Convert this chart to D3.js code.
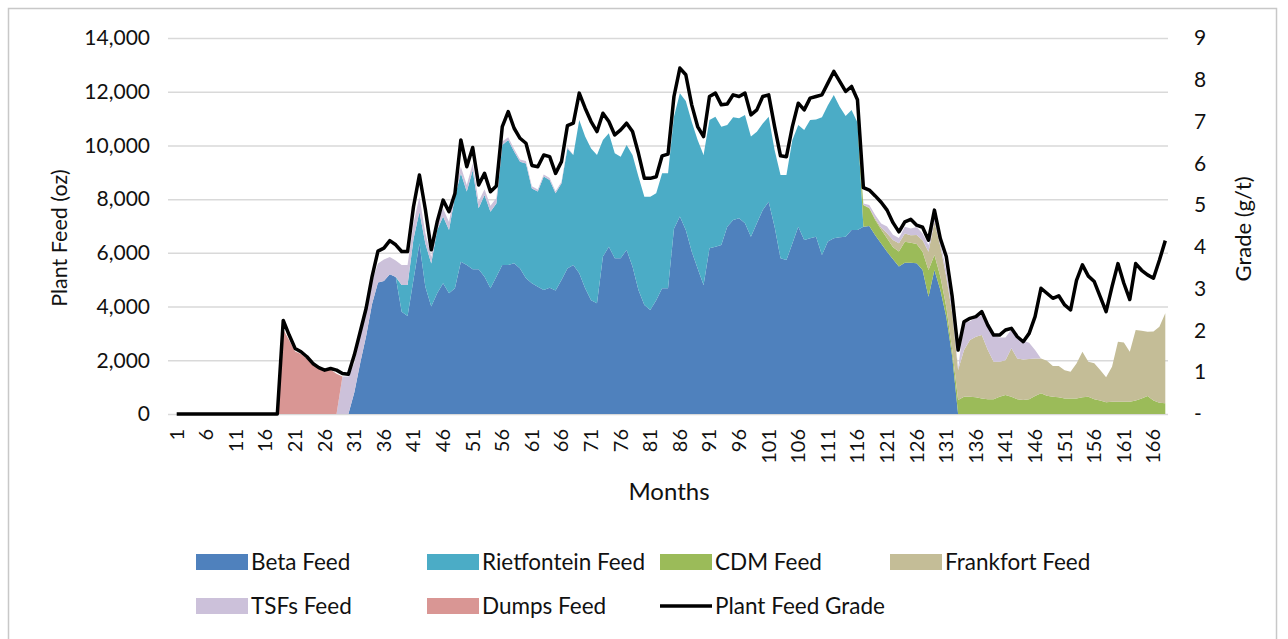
<!DOCTYPE html>
<html>
<head>
<meta charset="utf-8">
<script src="https://cdn.jsdelivr.net/npm/d3@7"></script>
<style>
  body { margin: 0; background: #fff; }
  text { font-family: Lato, "Open Sans", sans-serif; fill: #111; }
</style>
</head>
<body>
<div id="chart"></div>
<script>
// Monthly plant feed (oz) by source, month 1..168
const beta = [
  0,0,0,0,0,0,0,0,0,0,
  0,0,0,0,0,0,0,0,0,0,
  0,0,0,0,0,0,0,0,0,0,
  800,1900,2900,4100,4900,4950,5200,5100,3810,3650,
  5000,6350,4740,4000,4500,4870,4500,4680,5670,5550,
  5390,5390,5110,4680,5110,5550,5550,5610,5420,5050,
  4870,4740,4620,4700,4600,4990,5420,5550,5240,4680,
  4240,4120,5860,6230,5800,5800,6110,5490,4620,4060,
  3870,4240,4680,4680,6900,7350,6850,6050,5420,4800,
  6170,6230,6290,6970,7220,7290,7100,6600,7100,7600,
  7900,6970,5800,5730,6350,6970,6480,6540,6600,5920,
  6420,6540,6580,6600,6850,6850,6970,7000,6660,6350,
  6040,5760,5490,5630,5630,5610,5360,4370,5360,4620,
  3620,2140,0,0,0,0,0,0,0,0,
  0,0,0,0,0,0,0,0,0,0,
  0,0,0,0,0,0,0,0,0,0,
  0,0,0,0,0,0,0,0
];
const rietfontein = [
  0,0,0,0,0,0,0,0,0,0,
  0,0,0,0,0,0,0,0,0,0,
  0,0,0,0,0,0,0,0,0,0,
  0,0,0,0,0,0,0,0,990,1150,
  1515,1180,1610,1600,2350,2480,2350,3410,3290,2730,
  3690,2270,3040,2850,2730,4470,4650,4160,3970,4280,
  3530,3540,4220,4010,3620,3600,4470,4090,5710,5650,
  5650,5520,4340,4220,3910,3780,3910,4150,4220,4030,
  4220,3980,4280,4280,4170,4590,4800,4830,4780,4840,
  4780,4840,4410,3790,3830,3720,4030,3730,3410,3220,
  3170,2860,3100,3170,3850,3790,4090,4410,4370,5130,
  5080,5340,4860,4500,4470,4000,0,0,0,0,
  0,0,0,0,0,0,0,0,0,0,
  0,0,0,0,0,0,0,0,0,0,
  0,0,0,0,0,0,0,0,0,0,
  0,0,0,0,0,0,0,0,0,0,
  0,0,0,0,0,0,0,0
];
const cdm = [
  0,0,0,0,0,0,0,0,0,0,
  0,0,0,0,0,0,0,0,0,0,
  0,0,0,0,0,0,0,0,0,0,
  0,0,0,0,0,0,0,0,0,0,
  0,0,0,0,0,0,0,0,0,0,
  0,0,0,0,0,0,0,0,0,0,
  0,0,0,0,0,0,0,0,0,0,
  0,0,0,0,0,0,0,0,0,0,
  0,0,0,0,0,0,0,0,0,0,
  0,0,0,0,0,0,0,0,0,0,
  0,0,0,0,0,0,0,0,0,0,
  0,0,0,0,0,0,810,660,560,520,
  500,450,560,780,745,720,680,990,560,500,
  370,250,520,645,645,620,580,550,550,645,
  705,645,550,520,550,670,770,680,645,620,
  580,580,580,620,645,550,500,435,460,460,
  460,460,500,580,670,500,420,400
];
const frankfort = [
  0,0,0,0,0,0,0,0,0,0,
  0,0,0,0,0,0,0,0,0,0,
  0,0,0,0,0,0,0,0,0,0,
  0,0,0,0,0,0,0,0,0,0,
  0,0,0,0,0,0,0,0,0,0,
  0,0,0,0,0,0,0,0,0,0,
  0,0,0,0,0,0,0,0,0,0,
  0,0,0,0,0,0,0,0,0,0,
  0,0,0,0,0,0,0,0,0,0,
  0,0,0,0,0,0,0,0,0,0,
  0,0,0,0,0,0,0,0,0,0,
  0,0,0,0,0,0,0,20,60,75,
  190,270,310,310,285,335,430,680,1240,1120,
  1120,1360,1120,1740,2110,2260,2360,1840,1400,1300,
  1300,1800,1520,1510,1500,1400,1300,1300,1140,1170,
  1050,990,1300,1700,1300,1340,1140,930,1300,2230,
  2200,1860,2630,2520,2390,2570,2830,3350
];
const tsfs = [
  0,0,0,0,0,0,0,0,0,0,
  0,0,0,0,0,0,0,0,0,0,
  0,0,0,0,0,0,0,0,1400,1400,
  1100,1000,900,850,700,800,650,620,750,750,
  600,560,400,250,320,300,300,260,250,250,
  250,250,220,220,200,130,100,100,90,90,
  80,80,80,80,70,60,50,0,0,0,
  0,0,0,0,0,0,0,0,0,0,
  0,0,0,0,0,0,0,0,0,0,
  0,0,0,0,0,0,0,0,0,0,
  0,0,0,0,0,0,0,0,0,0,
  0,0,0,0,0,0,60,100,130,150,
  250,190,190,250,250,300,250,250,190,120,
  250,250,60,1020,700,700,740,820,950,900,
  840,700,730,700,600,310,0,0,0,0,
  0,0,0,0,0,0,0,0,0,0,
  0,0,0,0,0,0,0,0
];
const dumps = [
  0,0,0,0,0,0,0,0,0,0,
  0,0,0,0,0,0,0,0,3150,2750,
  2330,2230,2050,1850,1720,1600,1650,1500,0,0,
  0,0,0,0,0,0,0,0,0,0,
  0,0,0,0,0,0,0,0,0,0,
  0,0,0,0,0,0,0,0,0,0,
  0,0,0,0,0,0,0,0,0,0,
  0,0,0,0,0,0,0,0,0,0,
  0,0,0,0,0,0,0,0,0,0,
  0,0,0,0,0,0,0,0,0,0,
  0,0,0,0,0,0,0,0,0,0,
  0,0,0,0,0,0,0,0,0,0,
  0,0,0,0,0,0,0,0,0,0,
  0,0,0,0,0,0,0,0,0,0,
  0,0,0,0,0,0,0,0,0,0,
  0,0,0,0,0,0,0,0,0,0,
  0,0,0,0,0,0,0,0
];
// Plant feed grade (g/t), right axis
const grade = [
  0,0,0,0,0,0,0,0,0,0,
  0,0,0,0,0,0,0,0,2.24,1.89,
  1.57,1.49,1.37,1.21,1.11,1.05,1.09,1.05,0.97,0.95,
  1.41,1.97,2.53,3.29,3.9,3.97,4.15,4.05,3.89,3.89,
  4.96,5.72,4.9,3.93,4.6,5.12,4.84,5.28,6.56,5.92,
  6.38,5.48,5.76,5.32,5.46,6.88,7.24,6.84,6.6,6.48,
  5.95,5.92,6.2,6.16,5.76,6.04,6.9,6.96,7.68,7.32,
  7.0,6.76,7.2,7.0,6.68,6.8,6.96,6.76,6.24,5.64,
  5.64,5.68,6.18,6.22,7.6,8.28,8.12,7.4,6.88,6.64,
  7.6,7.68,7.4,7.42,7.64,7.6,7.68,7.16,7.28,7.6,
  7.64,6.88,6.18,6.16,6.88,7.44,7.28,7.56,7.6,7.64,
  7.92,8.2,7.96,7.72,7.84,7.52,5.42,5.36,5.22,5.07,
  4.88,4.58,4.36,4.6,4.66,4.52,4.47,4.16,4.88,4.2,
  3.77,2.81,1.53,2.21,2.29,2.33,2.45,2.13,1.89,1.89,
  2.01,2.05,1.85,1.73,1.93,2.33,3.01,2.89,2.77,2.83,
  2.61,2.49,3.2,3.57,3.3,3.17,2.81,2.45,3.05,3.6,
  3.13,2.74,3.6,3.44,3.33,3.25,3.68,4.15
];

const monthTicks = [1,6,11,16,21,26,31,36,41,46,51,56,61,66,71,76,81,86,91,96,101,106,111,116,121,126,131,136,141,146,151,156,161,166];
const feedTicks = [0,2000,4000,6000,8000,10000,12000,14000];
const gradeTicks = [0,1,2,3,4,5,6,7,8,9];

const seriesKeys = ['beta','riet','cdm','frank','tsfs','dumps'];
const seriesNames = { beta:'Beta Feed', riet:'Rietfontein Feed', cdm:'CDM Feed', frank:'Frankfort Feed', tsfs:'TSFs Feed', dumps:'Dumps Feed' };
const colors = { beta:'#4f81bd', riet:'#4bacc6', cdm:'#9bbb59', frank:'#c4bd97', tsfs:'#ccc1da', dumps:'#d99694' };

const width = 1288, height = 639;
const plot = { left: 168, right: 1168, top: 38, bottom: 414 };

const rows = beta.map((b, i) => ({
  month: i + 1, beta: b, riet: rietfontein[i], cdm: cdm[i], frank: frankfort[i],
  tsfs: tsfs[i], dumps: dumps[i], grade: grade[i]
}));

const svg = d3.select('#chart').append('svg')
  .attr('width', width).attr('height', height);

// chart frame
svg.append('rect')
  .attr('x', 8.5).attr('y', 8.5).attr('width', 1268).attr('height', 700)
  .attr('fill', '#fff').attr('stroke', '#c8c8c8').attr('stroke-width', 1.5);

const x = d3.scaleLinear().domain([1, 168]).range([176.7, 1165.3]);
const y = d3.scaleLinear().domain([0, 14000]).range([plot.bottom, plot.top]);
const y2 = d3.scaleLinear().domain([0, 9]).range([plot.bottom, plot.top]);

// gridlines
svg.append('g').attr('class', 'grid')
  .attr('transform', `translate(${plot.left},0)`)
  .call(d3.axisLeft(y).tickValues(feedTicks).tickSize(-(plot.right - plot.left)).tickFormat(''))
  .call(g => g.select('.domain').remove())
  .selectAll('line').attr('stroke', '#d9d9d9').attr('stroke-width', 1.5);

// stacked areas
const stack = d3.stack().keys(seriesKeys);
const layers = stack(rows);
const area = d3.area()
  .x(d => x(d.data.month))
  .y0(d => y(d[0]))
  .y1(d => y(d[1]));

svg.append('g').selectAll('path')
  .data(layers)
  .join('path')
  .attr('fill', d => colors[d.key])
  .attr('d', area);

// grade line
const line = d3.line()
  .x(d => x(d.month))
  .y(d => y2(d.grade));
svg.append('path')
  .datum(rows)
  .attr('fill', 'none')
  .attr('stroke', '#000')
  .attr('stroke-width', 3.5)
  .attr('stroke-linejoin', 'round')
  .attr('d', line);

// left axis
svg.append('g')
  .attr('transform', `translate(${plot.left},0)`)
  .call(d3.axisLeft(y).tickValues(feedTicks).tickSize(0).tickPadding(18).tickFormat(d3.format(',')))
  .call(g => g.select('.domain').remove())
  .selectAll('text')
  .style('font-size', '21px').style('font-family', 'Lato, sans-serif').attr('fill', '#111');

// right axis
svg.append('g')
  .attr('transform', `translate(${plot.right},0)`)
  .call(d3.axisRight(y2).tickValues(gradeTicks).tickSize(0).tickPadding(26).tickFormat(d => d === 0 ? '-' : d))
  .call(g => g.select('.domain').remove())
  .selectAll('text')
  .style('font-size', '21px').style('font-family', 'Lato, sans-serif').attr('fill', '#111');

// bottom axis, rotated month labels
svg.append('g').selectAll('text')
  .data(monthTicks)
  .join('text')
  .attr('transform', d => `translate(${x(d)},429) rotate(-90)`)
  .attr('text-anchor', 'end')
  .attr('dy', '0.35em')
  .style('font-size', '20px')
  .text(d => d);

// axis titles
svg.append('text')
  .attr('transform', 'translate(67,238) rotate(-90)')
  .attr('text-anchor', 'middle')
  .style('font-size', '21.5px')
  .text('Plant Feed (oz)');

svg.append('text')
  .attr('transform', 'translate(1251,229) rotate(-90)')
  .attr('text-anchor', 'middle')
  .style('font-size', '22px')
  .text('Grade (g/t)');

svg.append('text')
  .attr('x', 669).attr('y', 500)
  .attr('text-anchor', 'middle')
  .style('font-size', '24px')
  .text('Months');

// legend
const legendItems = [
  { key: 'beta', x: 196, y: 562 },
  { key: 'riet', x: 427, y: 562 },
  { key: 'cdm', x: 660, y: 562 },
  { key: 'frank', x: 890, y: 562 },
  { key: 'tsfs', x: 196, y: 606 },
  { key: 'dumps', x: 427, y: 606 },
  { key: 'grade', x: 660, y: 606 }
];
const leg = svg.append('g').selectAll('g')
  .data(legendItems)
  .join('g')
  .attr('transform', d => `translate(${d.x},${d.y})`);

leg.filter(d => d.key !== 'grade').append('rect')
  .attr('x', 0).attr('y', -8).attr('width', 52).attr('height', 16)
  .attr('fill', d => colors[d.key]);
leg.filter(d => d.key === 'grade').append('line')
  .attr('x1', 0).attr('x2', 52).attr('y1', 0).attr('y2', 0)
  .attr('stroke', '#000').attr('stroke-width', 3.5);
leg.append('text')
  .attr('x', 55).attr('dy', '0.35em')
  .style('font-size', '22.5px')
  .text(d => d.key === 'grade' ? 'Plant Feed Grade' : seriesNames[d.key]);
</script>
</body>
</html>
